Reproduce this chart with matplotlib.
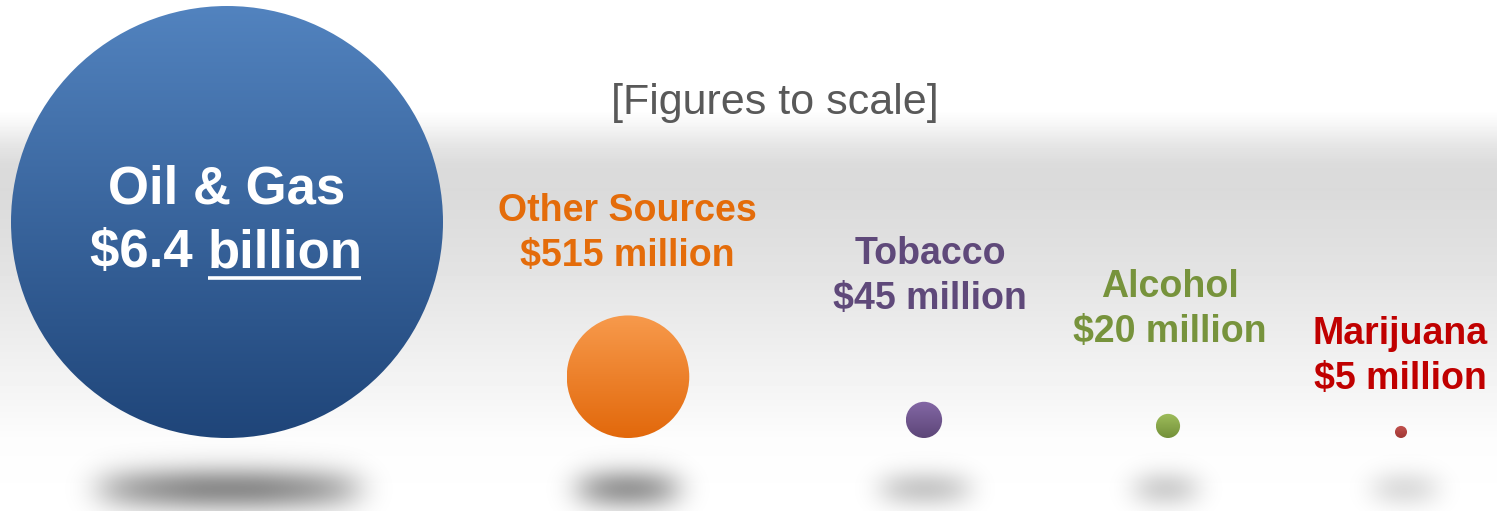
import numpy as np
import matplotlib
matplotlib.use("Agg")
import matplotlib.pyplot as plt
from matplotlib.patches import Circle
from matplotlib.colors import to_rgb

# Revenue sources, in millions of dollars
categories = ["Oil & Gas", "Other Sources", "Tobacco", "Alcohol", "Marijuana"]
values = [6400, 515, 45, 20, 5]
amount_labels = ["$6.4 ", "$515 million", "$45 million", "$20 million", "$5 million"]

# Styling
centers_x = [227, 628, 924, 1168, 1401]
baseline_y = 438          # all bubbles rest on the same line
scale = 216 / np.sqrt(6400)  # bubble area proportional to value
top_colors = ["#5283bf", "#f79a4c", "#8468a6", "#9fbe5c", "#c4524f"]
bottom_colors = ["#1f4579", "#e2680b", "#5d4678", "#739039", "#a03835"]
text_colors = ["#ffffff", "#e46c0a", "#5f497a", "#77933c", "#c00000"]
label_pos = [(227, 190, 253), (627, 211, 256), (930, 254, 299),
             (1170, 287, 332), (1400, 334, 379)]
# shadow half-width, half-height, blur and darkness
shadow_style = [(136, 9, 15, 0.45), (54, 8, 14, 0.40), (48, 6, 13, 0.21),
                (34, 6, 13, 0.18), (35, 6, 13, 0.13)]
shadow_x = [229, 628, 925, 1166, 1405]
shadow_y = 489

W, H = 1497, 511
fig = plt.figure(figsize=(W / 100, H / 100), dpi=100)
ax = fig.add_axes([0, 0, 1, 1])
ax.set_xlim(0, W)
ax.set_ylim(H, 0)
ax.axis("off")

# Gray band background
ys = np.arange(H)
stops_y = [0, 110, 125, 145, 165, 190, 250, 330, 400, 440, 511]
stops_v = [1.0, 1.0, 0.965, 0.9, 0.86, 0.855, 0.88, 0.925, 0.965, 0.99, 1.0]
shade = np.interp(ys + 0.5, stops_y, stops_v)
ax.imshow(shade[:, None], cmap="gray", vmin=0, vmax=1, extent=(0, W, H, 0),
          aspect="auto", zorder=0, interpolation="nearest")

radii = [scale * np.sqrt(v) for v in values]

# Soft shadows: blurred ellipses rendered on a padded pixel grid
pad = 100
GH, GW = H + 2 * pad, W + 2 * pad
px = np.arange(GW) - pad + 0.5
py = np.arange(GH) - pad + 0.5
PX, PY = np.meshgrid(px, py)
fy = np.fft.fftfreq(GH)[:, None]
fx = np.fft.fftfreq(GW)[None, :]
alpha = np.zeros((GH, GW))
for cx, (a, b, s, dark) in zip(shadow_x, shadow_style):
    mask = (((PX - cx) / a) ** 2 + ((PY - shadow_y) / b) ** 2 <= 1).astype(float)
    kernel = np.exp(-2 * (np.pi * s) ** 2 * (fx ** 2 + fy ** 2))
    soft = np.real(np.fft.ifft2(np.fft.fft2(mask) * kernel))
    soft = np.clip(soft, 0, None)
    soft /= soft.max()
    alpha = 1 - (1 - alpha) * (1 - soft * dark)
alpha = alpha[pad:pad + H, pad:pad + W]
overlay = np.zeros((H, W, 4))
overlay[..., 3] = alpha
ax.imshow(overlay, extent=(0, W, H, 0), aspect="auto", zorder=1,
          interpolation="nearest")

# Bubbles with vertical gradient fill
for cx, r, ct, cb in zip(centers_x, radii, top_colors, bottom_colors):
    cy = baseline_y - r
    t = np.linspace(0, 1, 256)[:, None]
    c0, c1 = np.array(to_rgb(ct)), np.array(to_rgb(cb))
    grad = (c0[None, None, :] * (1 - t[..., None]) + c1[None, None, :] * t[..., None])
    grad = np.repeat(grad, 4, axis=1)
    im = ax.imshow(grad, extent=(cx - r, cx + r, cy + r, cy - r),
                   aspect="auto", zorder=2, interpolation="bilinear")
    clip = Circle((cx, cy), r, transform=ax.transData, facecolor="none", edgecolor="none")
    ax.add_patch(clip)
    im.set_clip_path(clip)

font = "Liberation Sans"

# Labels
for i, (name, amt) in enumerate(zip(categories, amount_labels)):
    x, y1, y2 = label_pos[i]
    size = 38 if i == 0 else 27
    ax.text(x, y1, name, ha="center", va="center", fontsize=size,
            fontweight="bold", color=text_colors[i], family=font, zorder=5)
    if i == 0:
        t1 = ax.text(x - 137, y2, amt, ha="left", va="center", fontsize=size,
                     fontweight="bold", color=text_colors[i], family=font, zorder=5)
        fig.canvas.draw()
        bb = t1.get_window_extent().transformed(ax.transData.inverted())
        xb = max(bb.x0, bb.x1)
        t2 = ax.text(xb, y2, "billion", ha="left", va="center", fontsize=size,
                     fontweight="bold", color=text_colors[i], family=font, zorder=5)
        fig.canvas.draw()
        bb2 = t2.get_window_extent().transformed(ax.transData.inverted())
        ax.plot([bb2.x0 + 1, bb2.x1 - 1], [278, 278], color="white", lw=2.6,
                solid_capstyle="butt", zorder=5)
    else:
        ax.text(x, y2, amt, ha="center", va="center", fontsize=size,
                fontweight="bold", color=text_colors[i], family=font, zorder=5)

ax.text(775, 103, "[Figures to scale]", ha="center", va="center", fontsize=31,
        color="#595959", family=font, zorder=5)

fig.savefig("out.png", dpi=100)
